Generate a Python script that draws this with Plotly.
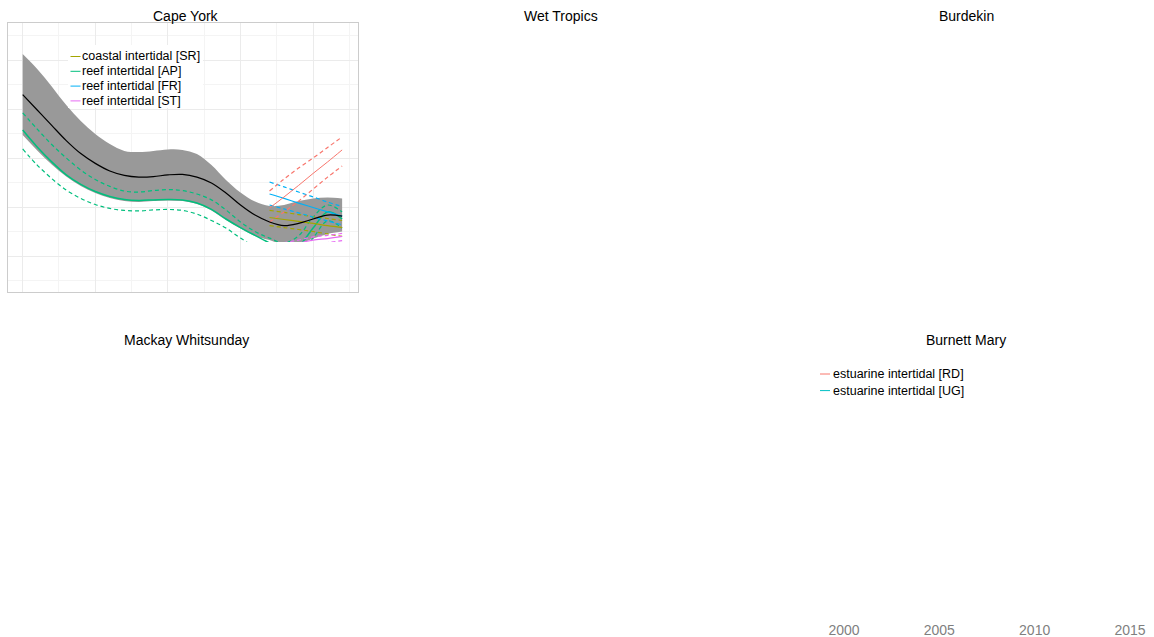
import plotly.graph_objects as go

W, H = 1154, 637
FONT = "Liberation Sans, Arial, Helvetica, sans-serif"

# ---------------- data ----------------
model_years = list(range(2000, 2023))

# regional model for Cape York (mean and confidence band)
region_mean = [65.9, 59.6, 53.3, 47.1, 41.8, 37.8, 34.7, 32.9, 32.2, 32.4, 33.1, 33.3,
               32.2, 29.8, 25.7, 20.8, 16.7, 13.9, 12.4, 13.3, 15.1, 16.7, 16.3]
region_upper = [82.4, 76.3, 69.2, 61.6, 55.1, 49.8, 45.7, 42.9, 42.4, 42.9, 43.5, 43.3,
                41.6, 37.1, 31.0, 25.9, 22.2, 20.4, 20.8, 22.4, 23.5, 23.9, 23.5]
region_lower = [49.4, 43.1, 37.3, 32.4, 28.6, 25.7, 23.7, 22.4, 22.0, 22.4, 22.7, 22.4,
                21.2, 18.6, 14.7, 11.2, 8.2, 6.5, 4.5, 4.9, 7.1, 9.0, 10.0]

# reef intertidal [AP]
ap_fit = [51.4, 44.5, 38.4, 33.1, 29.2, 26.3, 24.3, 23.1, 22.7, 22.9, 23.1, 22.9,
          21.6, 19.0, 15.1, 11.6, 8.4, 5.3, 2.4, 4.1, 11.4, 18.0, 15.1]
ap_upper = [58.4, 51.8, 45.5, 40.0, 35.1, 31.2, 28.4, 26.5, 26.1, 26.7, 27.1, 26.7,
            25.3, 22.9, 18.8, 13.9, 10.0, 7.3, 5.3, 8.2, 15.9, 20.8, 18.0]
ap_lower = [43.7, 37.1, 31.6, 26.9, 23.5, 21.0, 19.4, 18.6, 18.4, 18.8, 19.0, 18.6,
            17.1, 14.5, 11.4, 7.3, 3.7, 0.8, -1.6, 0.0, 7.3, 14.3, 11.4]

site_years = list(range(2017, 2023))

# coastal intertidal [SR]
sr_fit = [15.7, 14.9, 14.1, 13.3, 12.4, 11.6]
sr_upper = [18.6, 17.8, 16.9, 16.1, 15.3, 14.5]
sr_lower = [12.4, 11.6, 10.8, 10.0, 9.0, 8.0]

# reef intertidal [FR]
fr_fit = [25.3, 23.5, 21.6, 19.8, 18.0, 16.3]
fr_upper = [30.2, 28.2, 26.1, 24.1, 22.0, 20.2]
fr_lower = [20.8, 19.2, 17.6, 15.9, 14.3, 12.7]

# reef intertidal [ST]
st_fit = [3.3, 4.3, 5.3, 6.5, 7.1, 8.0]
st_upper = [4.5, 5.5, 6.5, 7.8, 8.4, 9.2]
st_lower = [1.6, 2.7, 3.7, 4.9, 5.5, 6.3]

# estuarine intertidal [RD]
rd_fit = [19.6, 24.1, 28.8, 33.7, 38.4, 43.3]
rd_upper = [26.5, 31.4, 35.9, 40.0, 44.3, 48.6]
rd_lower = [13.9, 18.0, 22.4, 27.3, 32.2, 36.7]

panel_titles = ["Cape York", "Wet Tropics", "Burdekin", "Mackay Whitsunday", "Burnett Mary"]
cape_york_legend = ["coastal intertidal [SR]", "reef intertidal [AP]",
                    "reef intertidal [FR]", "reef intertidal [ST]"]
burnett_legend = ["estuarine intertidal [RD]", "estuarine intertidal [UG]"]
year_ticks = [2000, 2005, 2010, 2015]

# ggplot-style hue palette
C_SR, C_AP, C_FR, C_ST, C_RD = "#A3A500", "#00BF7D", "#00B0F6", "#E76BF3", "#F8766D"
C_UG = "#00BFC4"
DASH = "4px,3px"


def px_x(p):
    return p / W


def px_y(p):
    return 1 - p / H


fig = go.Figure()

# empty traces so the framed panel and the year axis are laid out
fig.add_trace(go.Scatter(x=[None], y=[None], xaxis="x", yaxis="y", showlegend=False, hoverinfo="skip"))
fig.add_trace(go.Scatter(x=[None], y=[None], xaxis="x3", yaxis="y3", showlegend=False, hoverinfo="skip"))

# confidence ribbon of the regional model
fig.add_trace(go.Scatter(x=model_years, y=region_upper, xaxis="x2", yaxis="y2", mode="lines",
                         line=dict(width=0, shape="spline"), showlegend=False, hoverinfo="skip"))
fig.add_trace(go.Scatter(x=model_years, y=region_lower, xaxis="x2", yaxis="y2", mode="lines",
                         line=dict(width=0, shape="spline"), fill="tonexty",
                         fillcolor="#999999", showlegend=False, hoverinfo="skip"))


def add_site(xs, fit, lo, hi, color, name, width=1.2):
    for vals, dash in ((hi, DASH), (lo, DASH), (fit, "solid")):
        fig.add_trace(go.Scatter(
            x=xs, y=vals, xaxis="x2", yaxis="y2", mode="lines", name=name,
            line=dict(color=color, width=width if dash == "solid" else 1.2,
                      dash=dash, shape="spline"),
            showlegend=False))


add_site(model_years, ap_fit, ap_lower, ap_upper, C_AP, cape_york_legend[1], width=1.5)
add_site(site_years, sr_fit, sr_lower, sr_upper, C_SR, cape_york_legend[0])
add_site(site_years, st_fit, st_lower, st_upper, C_ST, cape_york_legend[3])
add_site(site_years, fr_fit, fr_lower, fr_upper, C_FR, cape_york_legend[2])
add_site(site_years, rd_fit, rd_lower, rd_upper, C_RD, burnett_legend[0], width=1.0)

# regional mean on top
fig.add_trace(go.Scatter(x=model_years, y=region_mean, xaxis="x2", yaxis="y2", mode="lines",
                         line=dict(color="black", width=1.2, shape="spline"),
                         showlegend=False))

# ---------------- axes ----------------
x_range = [1998.988, 2023.093]
grid_major = "#ebebeb"
grid_minor = "#f4f4f4"

fig.update_layout(
    xaxis=dict(domain=[px_x(8), px_x(358)], range=x_range, anchor="y",
               showgrid=True, gridcolor=grid_major, gridwidth=1, tick0=2000, dtick=5,
               minor=dict(showgrid=True, gridcolor=grid_minor, gridwidth=1, tick0=2000, dtick=2.5),
               showticklabels=False, ticks="", zeroline=False,
               showline=True, linecolor="#cccccc", linewidth=1.3, mirror=True, fixedrange=True),
    yaxis=dict(domain=[px_y(292), px_y(23)], range=[-14.69, 95.10], anchor="x",
               showgrid=True, gridcolor=grid_major, gridwidth=1, tick0=0, dtick=20,
               minor=dict(showgrid=True, gridcolor=grid_minor, gridwidth=1, tick0=0, dtick=10),
               showticklabels=False, ticks="", zeroline=False,
               showline=True, linecolor="#cccccc", linewidth=1.3, mirror=True, fixedrange=True),
    xaxis2=dict(domain=[px_x(8), px_x(358)], range=x_range, anchor="y2", visible=False),
    yaxis2=dict(domain=[px_y(242), px_y(23)], range=[5.71, 95.10], anchor="x2", visible=False),
    xaxis3=dict(domain=[px_x(790), px_x(1150)], range=[1997.17, 2016.05], anchor="y3",
                tickvals=year_ticks, ticktext=[str(t) for t in year_ticks],
                showgrid=False, zeroline=False, showline=False, ticks="",
                tickfont=dict(size=14, color="#7f7f7f", family=FONT)),
    yaxis3=dict(domain=[px_y(620), px_y(600)], anchor="x3", visible=False),
)

# ---------------- panel titles ----------------
title_pos = [(186, 16), (561, 16), (966, 16), (186, 340), (966, 340)]
annotations = []
for text, (cx, cy) in zip(panel_titles, title_pos):
    annotations.append(dict(text=text, x=px_x(cx), y=px_y(cy), xref="paper", yref="paper",
                            xanchor="center", yanchor="middle", showarrow=False,
                            font=dict(size=14, color="black", family=FONT)))

# ---------------- legends ----------------
shapes = [dict(type="rect", xref="paper", yref="paper", x0=px_x(68), x1=px_x(203),
               y0=px_y(108), y1=px_y(45), fillcolor="white", line=dict(width=0), layer="above")]


def legend_block(labels, colors, x_left, text_x, y_first, step):
    for i, (lab, col) in enumerate(zip(labels, colors)):
        yy = y_first + i * step
        shapes.append(dict(type="line", xref="paper", yref="paper",
                           x0=px_x(x_left), x1=px_x(x_left + 10), y0=px_y(yy), y1=px_y(yy),
                           line=dict(color=col, width=1), layer="above"))
        annotations.append(dict(text=lab, x=px_x(text_x), y=px_y(yy), xref="paper", yref="paper",
                                xanchor="left", yanchor="middle", showarrow=False,
                                font=dict(size=12.5, color="black", family=FONT)))


legend_block(cape_york_legend, [C_SR, C_AP, C_FR, C_ST], 70.5, 80.3, 56.5, 14.8)
legend_block(burnett_legend, [C_RD, C_UG], 820, 831, 374, 16.6)

fig.update_layout(
    width=W, height=H, autosize=False,
    margin=dict(l=0, r=0, t=0, b=0, pad=0),
    paper_bgcolor="white", plot_bgcolor="rgba(0,0,0,0)",
    showlegend=False,
    font=dict(family=FONT),
    annotations=annotations, shapes=shapes,
)

fig.write_html("out.html")
